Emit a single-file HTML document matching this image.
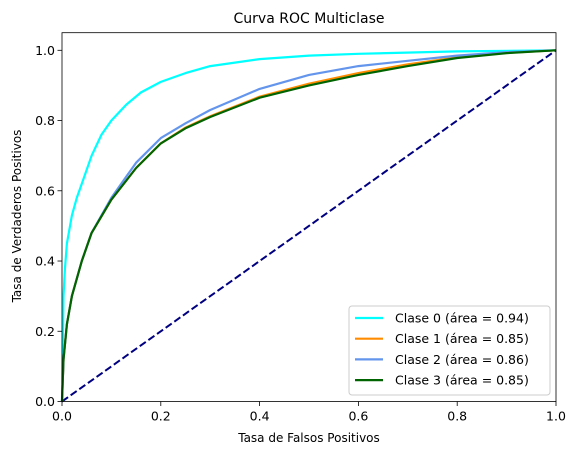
<!DOCTYPE html>
<html><head><meta charset="utf-8"><style>
body{margin:0;background:#fff;font-family:"Liberation Sans","DejaVu Sans",sans-serif;}
svg text{font-family:"DejaVu Sans","Liberation Sans",sans-serif;}
</style></head><body>
<svg id="chart" width="578" height="455" xmlns="http://www.w3.org/2000/svg">
<rect width="578" height="455" fill="#fff"/>
<text x="309" y="23" font-size="14" text-anchor="middle">Curva ROC Multiclase</text>
<g id="plot"></g>
<text x="309" y="442" font-size="12" text-anchor="middle">Tasa de Falsos Positivos</text>
<text transform="translate(21,216) rotate(-90)" font-size="12" text-anchor="middle">Tasa de Verdaderos Positivos</text>
</svg>
<script>
const xTicks=[0,0.2,0.4,0.6,0.8,1.0];
const yTicks=[0,0.2,0.4,0.6,0.8,1.0];
const seriesNames=["Clase 0 (área = 0.94)","Clase 1 (área = 0.85)","Clase 2 (área = 0.86)","Clase 3 (área = 0.85)"];
const seriesColors=["#00ffff","#ff8c00","#6495ed","#006400"];
const fpr0=[0,0.003,0.006,0.01,0.02,0.03,0.04,0.06,0.08,0.1,0.13,0.16,0.2,0.25,0.3,0.4,0.5,0.6,0.8,1];
const tpr0=[0,0.3,0.38,0.45,0.53,0.58,0.62,0.7,0.76,0.8,0.845,0.88,0.91,0.935,0.955,0.975,0.985,0.99,0.997,1];
const fpr1=[0,0.003,0.01,0.02,0.04,0.06,0.1,0.15,0.2,0.25,0.3,0.4,0.5,0.6,0.7,0.8,0.9,1];
const tpr1=[0,0.12,0.22,0.3,0.4,0.48,0.575,0.665,0.735,0.78,0.812,0.868,0.905,0.935,0.96,0.98,0.993,1];
const fpr2=[0,0.003,0.01,0.02,0.04,0.06,0.1,0.15,0.2,0.25,0.3,0.4,0.5,0.6,0.7,0.8,0.9,1];
const tpr2=[0,0.12,0.22,0.3,0.4,0.48,0.58,0.68,0.75,0.792,0.83,0.89,0.93,0.955,0.97,0.985,0.995,1];
const fpr3=[0,0.003,0.01,0.02,0.04,0.06,0.1,0.15,0.2,0.25,0.3,0.4,0.5,0.6,0.7,0.8,0.9,1];
const tpr3=[0,0.12,0.22,0.3,0.4,0.48,0.575,0.665,0.735,0.778,0.81,0.865,0.9,0.93,0.955,0.978,0.992,1];
const X0=62,X1=556,Y0=401.5,Y1=50.3;
const sx=v=>X0+v*(X1-X0);
const sy=v=>Y0-v*(Y0-Y1);
const NS="http://www.w3.org/2000/svg";
const svg=document.getElementById('chart');
const plot=document.getElementById('plot');
function mk(t,a,p){const e=document.createElementNS(NS,t);for(const k in a)e.setAttribute(k,a[k]);(p||svg).appendChild(e);return e;}
const diag=mk('line',{x1:sx(0),y1:sy(0),x2:sx(1),y2:sy(1),stroke:'#000080','stroke-width':2,'stroke-dasharray':'7.4,3.2'},plot);


const F=[fpr0,fpr1,fpr2,fpr3],T=[tpr0,tpr1,tpr2,tpr3];
for(let s=0;s<4;s++){
 const d=F[s].map((v,i)=>(i?'L':'M')+sx(v).toFixed(1)+','+sy(T[s][i]).toFixed(1)).join('');
 const p=mk('path',{d:d,fill:'none',stroke:seriesColors[s],'stroke-width':2.2,'stroke-linejoin':'round'},plot);
 
 
}
const frame=mk('rect',{x:X0,y:32.7,width:X1-X0,height:Y0-32.7,fill:'none',stroke:'#000','stroke-width':0.8});


xTicks.forEach(v=>{
 const l=mk('line',{x1:sx(v),x2:sx(v),y1:Y0,y2:Y0+4.5,stroke:'#000','stroke-width':0.8});
 
 
 const t=mk('text',{x:sx(v),y:Y0+19,'font-size':12.5,'text-anchor':'middle'});t.textContent=v.toFixed(1);
 
 
});
yTicks.forEach(v=>{
 const l=mk('line',{x1:X0-4.5,x2:X0,y1:sy(v),y2:sy(v),stroke:'#000','stroke-width':0.8});
 
 
 const t=mk('text',{x:X0-7,y:sy(v)+4.5,'font-size':12.5,'text-anchor':'end'});t.textContent=v.toFixed(1);
 
 
});
const lg=mk('g',{});


mk('rect',{x:349,y:306,width:201,height:89,rx:3,fill:'#fff','fill-opacity':0.8,stroke:'#ccc','stroke-width':1},lg);
seriesNames.forEach((n,i)=>{
 const y=318+i*20.7;
 const g=mk('g',{},lg);
 
 
 mk('line',{x1:355,x2:383,y1:y,y2:y,stroke:seriesColors[i],'stroke-width':2.2},g);
 const t=mk('text',{x:395,y:y+4.5,'font-size':12.5},g);t.textContent=n;
});
</script>
</body></html>
